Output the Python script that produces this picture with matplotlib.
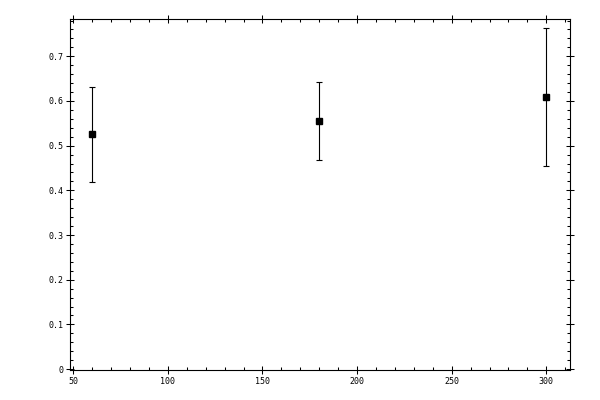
# Error bar plot - three measurements

import numpy as np
import matplotlib
matplotlib.use('Agg')
import matplotlib.pyplot as plt
from matplotlib.ticker import MultipleLocator, FuncFormatter

# data
x = [60, 180, 300]
y = [0.525, 0.555, 0.608]
err_low = [0.107, 0.087, 0.153]
err_high = [0.106, 0.087, 0.156]

plt.rcParams['font.family'] = 'DejaVu Sans Mono'

fig = plt.figure(figsize=(6, 4), dpi=100)
ax = fig.add_axes([0.116, 0.075, 0.834, 0.877])

ax.errorbar(x, y, yerr=[err_low, err_high], fmt='s', color='black',
            markersize=5, elinewidth=0.8, capsize=2.2, capthick=0.8)

ax.set_xlim(48.1, 312.5)
ax.set_ylim(-0.002, 0.783)

ax.xaxis.set_major_locator(MultipleLocator(50))
ax.xaxis.set_minor_locator(MultipleLocator(10))
ax.yaxis.set_major_locator(MultipleLocator(0.1))
ax.yaxis.set_minor_locator(MultipleLocator(0.02))
ax.yaxis.set_major_formatter(FuncFormatter(lambda v, p: '%g' % round(v, 2)))

ax.tick_params(which='major', direction='inout', length=5.5, width=0.75,
               top=True, right=True, labelsize=6, pad=2)
ax.tick_params(which='minor', direction='in', length=2.3, width=0.75,
               top=True, right=True)
for s in ax.spines.values():
    s.set_linewidth(0.8)

plt.savefig('out.png', dpi=100)
